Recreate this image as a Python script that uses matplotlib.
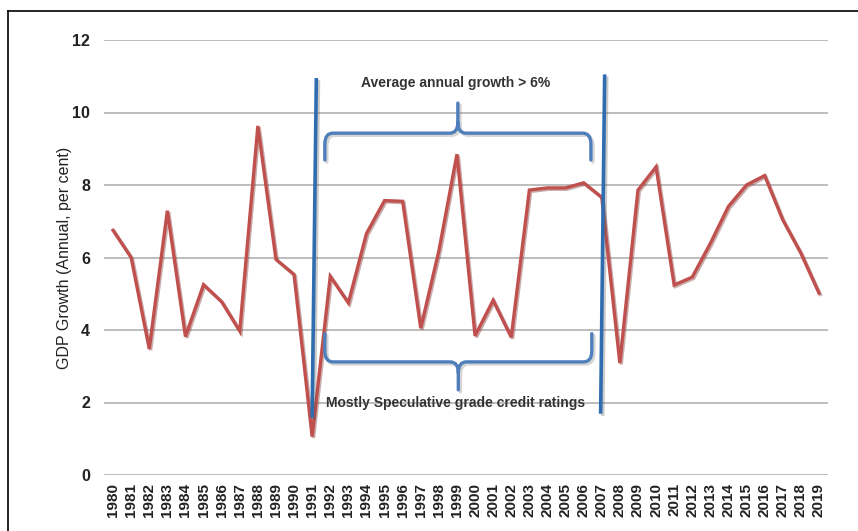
import matplotlib
matplotlib.use("Agg")
import matplotlib.pyplot as plt
import matplotlib.patheffects as pe
from matplotlib.path import Path
from matplotlib.patches import PathPatch
from matplotlib.lines import Line2D

plt.rcParams['font.family'] = ['Liberation Sans', 'DejaVu Sans']

years = [str(y) for y in range(1980, 2020)]
growth = [6.75, 6.00, 3.48, 7.29, 3.82, 5.25, 4.78, 3.97, 9.63, 5.95,
          5.53, 1.06, 5.48, 4.75, 6.66, 7.57, 7.55, 4.05, 6.18, 8.85,
          3.84, 4.82, 3.80, 7.86, 7.92, 7.92, 8.06, 7.66, 3.09, 7.86,
          8.50, 5.24, 5.46, 6.39, 7.41, 8.00, 8.26, 7.04, 6.12, 5.02]
yticks = [0, 2, 4, 6, 8, 10, 12]

# annotation text
top_note = "Average annual growth > 6%"
bottom_note = "Mostly Speculative grade credit ratings"

red = "#C0504D"
blue = "#2F6DB0"
brace_blue = "#4F7FBA"

fig = plt.figure(figsize=(8.58, 5.31), dpi=100)
ax = fig.add_axes([104/858, 1-475/531, 724/858, 435/531])

x = list(range(len(years)))
ax.plot(x, growth, color=red, lw=2.4, solid_joinstyle='miter',
        path_effects=[pe.SimpleLineShadow(offset=(1, -1), shadow_color='#7a3030', alpha=0.4),
                      pe.Normal()], zorder=3)

ax.set_xlim(-0.5, len(years) - 0.5)
ax.set_ylim(0, 12)
ax.set_yticks(yticks)
ax.set_yticklabels([str(v) for v in yticks], fontsize=11.5, fontweight='bold', color='#222222')
ax.set_xticks(x)
ax.set_xticklabels(years, rotation=90, fontsize=11, fontweight='bold', color='#222222')
ax.tick_params(axis='y', length=0, pad=10)
ax.tick_params(axis='x', length=0, pad=6)
ax.grid(axis='y', color='#bdbdbd', lw=1.4)
ax.set_axisbelow(True)
for s in ax.spines.values():
    s.set_visible(False)
ax.set_ylabel("GDP Growth (Annual, per cent)", fontsize=11.5, color='#222222', labelpad=0)

# vertical markers around 1991 and 2007
shadow = [pe.SimpleLineShadow(offset=(1.5, -1.5), shadow_color='#555555', alpha=0.3), pe.Normal()]
ax.plot([11.23, 11.0], [10.9, 1.63], color=blue, lw=2.6, zorder=4, path_effects=shadow)
ax.plot([27.16, 26.94], [11.0, 1.74], color=blue, lw=2.6, zorder=4, path_effects=shadow)


def brace(x0, x1, ybar, yend, ytip, rx=0.45, ry=0.3):
    xm = (x0 + x1) / 2
    d = 1 if yend < ybar else -1   # ends hang below the bar for d=1
    verts = [(x0, yend), (x0, ybar - d*ry), (x0, ybar), (x0 + rx, ybar),
             (xm - rx, ybar), (xm, ybar), (xm, ybar + d*ry), (xm, ytip),
             (xm, ybar + d*ry), (xm, ybar), (xm + rx, ybar),
             (x1 - rx, ybar), (x1, ybar), (x1, ybar - d*ry), (x1, yend)]
    codes = [Path.MOVETO, Path.LINETO, Path.CURVE3, Path.CURVE3,
             Path.LINETO, Path.CURVE3, Path.CURVE3, Path.LINETO,
             Path.MOVETO, Path.CURVE3, Path.CURVE3,
             Path.LINETO, Path.CURVE3, Path.CURVE3, Path.LINETO]
    p = PathPatch(Path(verts, codes), fill=False, ec=brace_blue, lw=2.4,
                  capstyle='round', zorder=4,
                  path_effects=[pe.Stroke(offset=(1.5, -1.5), foreground='#888888', alpha=0.35),
                                pe.Normal()])
    ax.add_patch(p)


brace(11.7, 26.4, 9.43, 8.69, 10.26)
brace(11.7, 26.45, 3.12, 3.9, 2.35)

ax.text(18.9, 10.82, top_note, ha='center', va='center', fontsize=10,
        fontweight='bold', color='#333333', zorder=5)
ax.text(18.9, 2.0, bottom_note, ha='center', va='center', fontsize=10,
        fontweight='bold', color='#333333', zorder=5)

# outer frame (left and top edges visible)
fig.add_artist(Line2D([8/858, 8/858], [0, 1-11/531], transform=fig.transFigure, color='black', lw=1.2))
fig.add_artist(Line2D([8/858, 1], [1-11/531, 1-11/531], transform=fig.transFigure, color='black', lw=1.2))

fig.savefig("out.png", dpi=100)
